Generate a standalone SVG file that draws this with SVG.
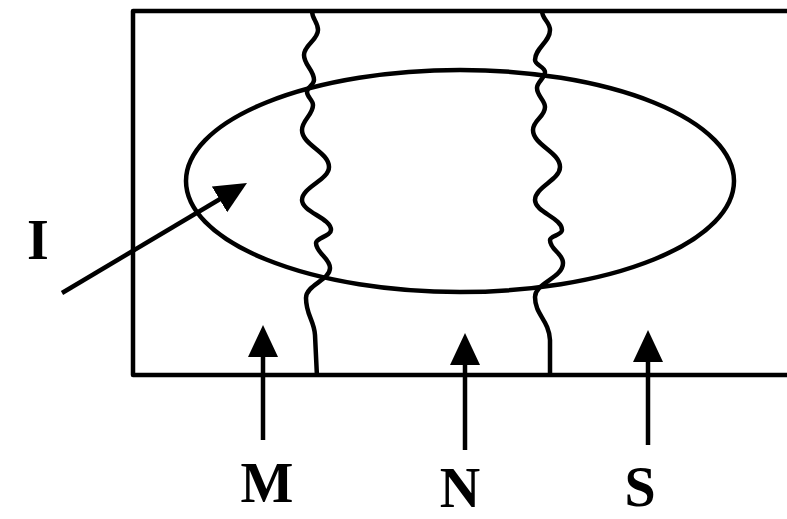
<svg xmlns="http://www.w3.org/2000/svg" width="787" height="519" viewBox="0 0 787 519">
<style>
.ln{fill:none;stroke:#000;stroke-width:4.5;stroke-linecap:butt;stroke-linejoin:round}
.lbl{font-family:"Liberation Serif","Times New Roman",serif;font-weight:bold;font-size:56px;fill:#000;text-anchor:middle}
</style>
<defs>
<marker id="ah" viewBox="0 0 32 30" refX="12" refY="15" markerWidth="32" markerHeight="30" markerUnits="userSpaceOnUse" orient="auto">
<path d="M0,0 L32,15 L0,30 z" fill="#000"/>
</marker>
</defs>
<rect width="787" height="519" fill="#fff"/>
<g id="box">
<path class="ln" d="M792,11 H133 V375 H792"/>
</g>
<g id="ellipse">
<ellipse class="ln" cx="460" cy="181" rx="274" ry="111"/>
</g>
<g id="boundary1">
<path class="ln" d="M312,11 C312,19 318,22 318,30 C318,40 304,45 304,55 C304,65 314,70 314,80 C314,85 307,87 307,92 C307,97 313,100 313,105 C313,115 302,120 302,130 C302,145 329,152 329,167 C329,180 302,187 302,200 C302,212 331,218 331,230 C331,236 316,238 316,243 C316,253 330,258 330,268 C330,280 306,285 306,298 C306,315 314,320 315,335 L317,377"/>
</g>
<g id="boundary2">
<path class="ln" d="M542,11 C542,19 550,22 550,30 C550,42 535,48 535,60 C535,65 545,67 545,72 C545,78 537,82 537,88 C537,96 545,100 545,107 C545,117 533,120 533,130 C533,145 560,152 560,167 C560,180 535,187 535,200 C535,212 562,218 562,230 C562,235 550,236 550,240 C550,250 563,253 563,263 C563,278 535,283 535,297 C535,315 549,320 550,340 L550,377"/>
</g>
<g id="connectors">
<line class="ln" x1="62" y1="293" x2="229.8" y2="193.2" marker-end="url(#ah)"/>
<line class="ln" x1="263" y1="440" x2="263" y2="345" marker-end="url(#ah)"/>
<line class="ln" x1="465" y1="450" x2="465" y2="353" marker-end="url(#ah)"/>
<line class="ln" x1="648" y1="445" x2="648" y2="350" marker-end="url(#ah)"/>
</g>
<g id="label-I"><text class="lbl" x="38" y="259">I</text></g>
<g id="label-M"><text class="lbl" x="267" y="502">M</text></g>
<g id="label-N"><text class="lbl" x="460" y="507">N</text></g>
<g id="label-S"><text class="lbl" x="640" y="506">S</text></g>
</svg>
